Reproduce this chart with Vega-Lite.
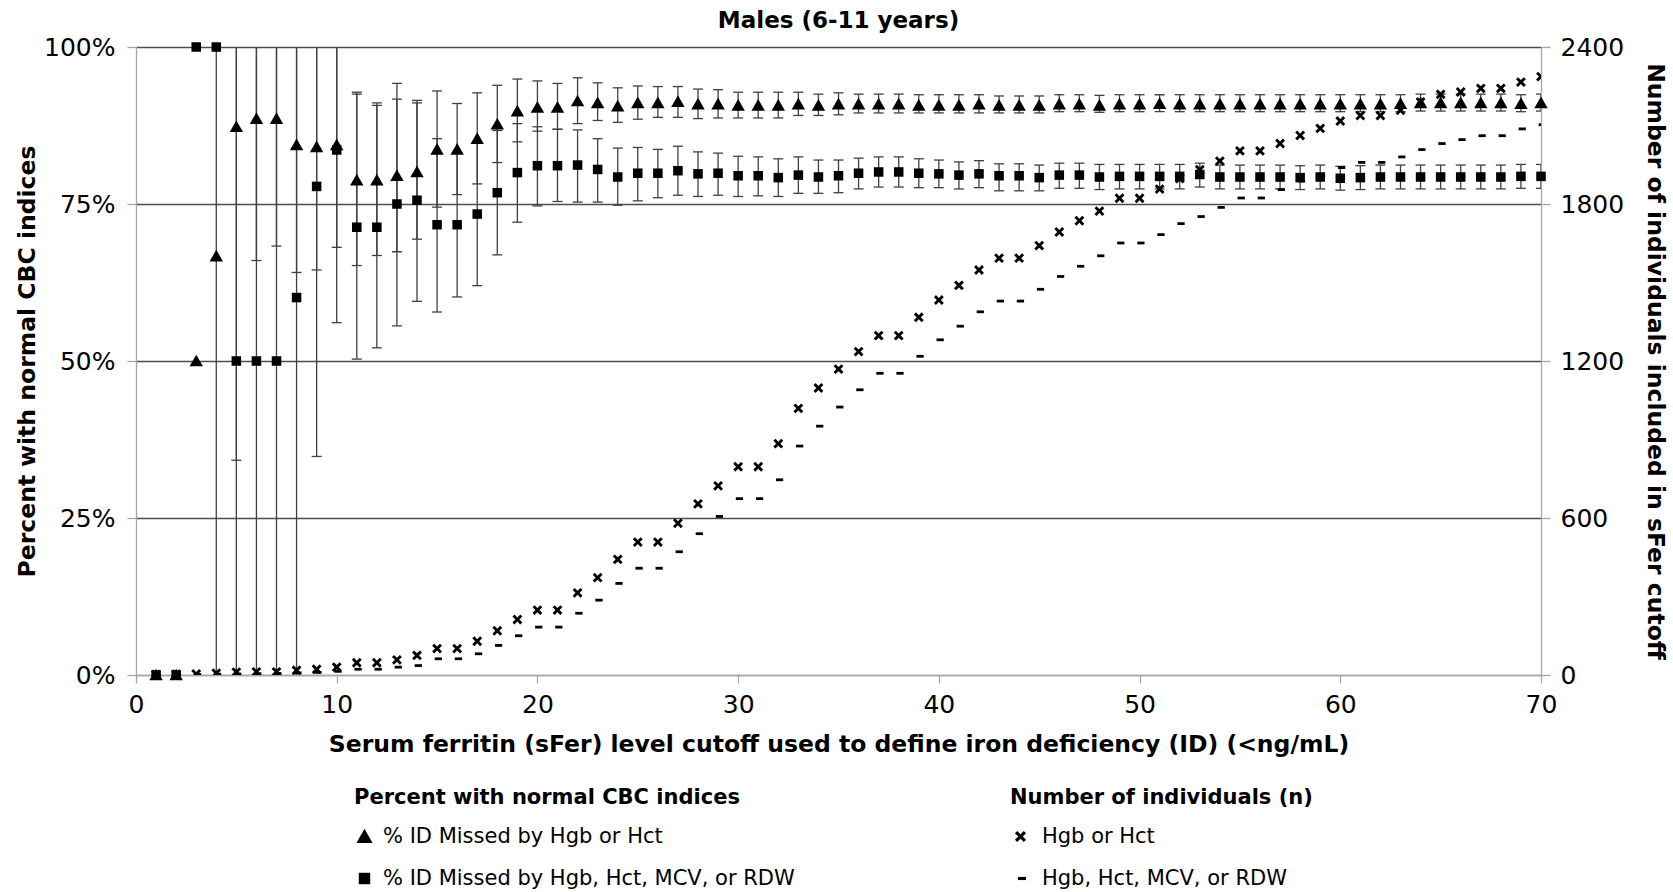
{
 "$schema": "https://vega.github.io/schema/vega-lite/v6.json",
 "width": 1405,
 "height": 628,
 "autosize": {"type": "none"},
 "padding": {"left": 136, "top": 47, "right": 132, "bottom": 217},
 "background": "white",
 "title": {"text": "Males (6-11 years)", "font": "DejaVu Sans", "fontSize": 23, "fontWeight": "bold", "color": "black", "anchor": "middle", "frame": "group", "offset": 2},
 "config": {
  "font": "DejaVu Sans",
  "view": {"stroke": null},
  "axis": {"labelFont": "DejaVu Sans", "labelFontSize": 25, "labelColor": "black", "titleFont": "DejaVu Sans", "titleFontSize": 23.5, "titleFontWeight": "bold", "titleColor": "black", "domainColor": "#a6a6a6", "tickColor": "#a6a6a6", "domainWidth": 1.3, "tickWidth": 1.3},
  "axisBottom": {"tickSize": 8, "labelPadding": 9, "grid": false, "labelFlush": false, "titleY": 69, "titleBaseline": "middle"},
  "axisLeft": {"tickSize": 9, "labelPadding": 12, "gridWidth": 1.3, "titleX": -109, "titleY": 314, "titleBaseline": "middle", "titleAlign": "center", "titleAngle": -90},
  "axisRight": {"tickSize": 9, "labelPadding": 10, "grid": false, "titleX": 113, "titleY": 314, "titleBaseline": "middle", "titleAlign": "center", "titleAngle": 90},
  "legend": {"orient": "none", "padding": 0, "labelFont": "DejaVu Sans", "labelFontSize": 21, "labelColor": "black", "titleFont": "DejaVu Sans", "titleFontSize": 21, "titleFontWeight": "bold", "titleColor": "black", "labelLimit": 700, "titleLimit": 700, "rowPadding": 20, "titlePadding": 18}
 },
 "datasets": {
  "pct": [
   {"x":1,"s":"tri","v":0},{"x":1,"s":"sq","v":0},
   {"x":2,"s":"tri","v":0},{"x":2,"s":"sq","v":0},
   {"x":3,"s":"tri","v":50},{"x":3,"s":"sq","v":100},
   {"x":4,"s":"tri","v":66.7,"lo":-5,"hi":130},{"x":4,"s":"sq","v":100},
   {"x":5,"s":"tri","v":87.3,"lo":34.2,"hi":140},{"x":5,"s":"sq","v":50,"lo":-40,"hi":140},
   {"x":6,"s":"tri","v":88.6,"lo":66.0,"hi":111.2},{"x":6,"s":"sq","v":50,"lo":-40,"hi":140},
   {"x":7,"s":"tri","v":88.6,"lo":68.3,"hi":108.9},{"x":7,"s":"sq","v":50,"lo":-40,"hi":140},
   {"x":8,"s":"tri","v":84.4,"lo":64.1,"hi":104.7},{"x":8,"s":"sq","v":60.1,"lo":-10,"hi":130},
   {"x":9,"s":"tri","v":84.1,"lo":64.5,"hi":103.7},{"x":9,"s":"sq","v":77.8,"lo":34.8,"hi":120.8},
   {"x":10,"s":"tri","v":84.4,"lo":68.1,"hi":100.7},{"x":10,"s":"sq","v":83.6,"lo":56.1,"hi":111.1},
   {"x":11,"s":"tri","v":78.8,"lo":65.2,"hi":92.5},{"x":11,"s":"sq","v":71.3,"lo":50.3,"hi":92.8},
   {"x":12,"s":"tri","v":78.8,"lo":66.8,"hi":90.7},{"x":12,"s":"sq","v":71.3,"lo":52.1,"hi":91.1},
   {"x":13,"s":"tri","v":79.5,"lo":67.4,"hi":91.7},{"x":13,"s":"sq","v":75.0,"lo":55.6,"hi":94.2},
   {"x":14,"s":"tri","v":80.1,"lo":69.4,"hi":91.1},{"x":14,"s":"sq","v":75.6,"lo":59.5,"hi":91.5},
   {"x":15,"s":"tri","v":83.7,"lo":74.5,"hi":93.0},{"x":15,"s":"sq","v":71.7,"lo":57.8,"hi":85.4},
   {"x":16,"s":"tri","v":83.7,"lo":76.5,"hi":91.0},{"x":16,"s":"sq","v":71.7,"lo":60.2,"hi":83.2},
   {"x":17,"s":"tri","v":85.4,"lo":78.2,"hi":92.7},{"x":17,"s":"sq","v":73.4,"lo":62.0,"hi":84.8},
   {"x":18,"s":"tri","v":87.7,"lo":81.6,"hi":93.9},{"x":18,"s":"sq","v":76.8,"lo":66.9,"hi":86.7},
   {"x":19,"s":"tri","v":89.8,"lo":84.9,"hi":94.9},{"x":19,"s":"sq","v":80.0,"lo":72.1,"hi":87.8},
   {"x":20,"s":"tri","v":90.4,"lo":86.6,"hi":94.6},{"x":20,"s":"sq","v":81.1,"lo":74.7,"hi":87.3},
   {"x":21,"s":"tri","v":90.4,"lo":86.9,"hi":94.2},{"x":21,"s":"sq","v":81.1,"lo":75.4,"hi":86.9},
   {"x":22,"s":"tri","v":91.4,"lo":87.8,"hi":95.1},{"x":22,"s":"sq","v":81.2,"lo":75.3,"hi":86.8},
   {"x":23,"s":"tri","v":91.1,"lo":88.3,"hi":94.3},{"x":23,"s":"sq","v":80.5,"lo":75.3,"hi":85.4},
   {"x":24,"s":"tri","v":90.6,"lo":88.0,"hi":93.5},{"x":24,"s":"sq","v":79.3,"lo":74.8,"hi":83.9},
   {"x":25,"s":"tri","v":91.1,"lo":88.5,"hi":93.8},{"x":25,"s":"sq","v":79.9,"lo":75.5,"hi":84.0},
   {"x":26,"s":"tri","v":91.1,"lo":88.8,"hi":93.7},{"x":26,"s":"sq","v":79.9,"lo":76.0,"hi":83.7},
   {"x":27,"s":"tri","v":91.3,"lo":88.8,"hi":93.7},{"x":27,"s":"sq","v":80.3,"lo":76.4,"hi":84.2},
   {"x":28,"s":"tri","v":90.9,"lo":88.6,"hi":93.3},{"x":28,"s":"sq","v":79.8,"lo":76.2,"hi":83.3},
   {"x":29,"s":"tri","v":90.9,"lo":88.7,"hi":93.2},{"x":29,"s":"sq","v":79.9,"lo":76.4,"hi":83.1},
   {"x":30,"s":"tri","v":90.7,"lo":88.7,"hi":92.8},{"x":30,"s":"sq","v":79.5,"lo":76.2,"hi":82.6},
   {"x":31,"s":"tri","v":90.7,"lo":88.7,"hi":92.8},{"x":31,"s":"sq","v":79.5,"lo":76.3,"hi":82.5},
   {"x":32,"s":"tri","v":90.7,"lo":88.7,"hi":92.8},{"x":32,"s":"sq","v":79.2,"lo":76.2,"hi":82.2},
   {"x":33,"s":"tri","v":90.9,"lo":89.1,"hi":92.8},{"x":33,"s":"sq","v":79.6,"lo":76.7,"hi":82.5},
   {"x":34,"s":"tri","v":90.7,"lo":89.1,"hi":92.5},{"x":34,"s":"sq","v":79.3,"lo":76.7,"hi":82.0},
   {"x":35,"s":"tri","v":90.9,"lo":89.2,"hi":92.7},{"x":35,"s":"sq","v":79.5,"lo":76.8,"hi":82.0},
   {"x":36,"s":"tri","v":90.9,"lo":89.5,"hi":92.5},{"x":36,"s":"sq","v":79.9,"lo":77.4,"hi":82.3},
   {"x":37,"s":"tri","v":90.9,"lo":89.5,"hi":92.5},{"x":37,"s":"sq","v":80.1,"lo":77.7,"hi":82.5},
   {"x":38,"s":"tri","v":90.9,"lo":89.5,"hi":92.5},{"x":38,"s":"sq","v":80.1,"lo":77.7,"hi":82.5},
   {"x":39,"s":"tri","v":90.7,"lo":89.5,"hi":92.4},{"x":39,"s":"sq","v":79.9,"lo":77.6,"hi":82.2},
   {"x":40,"s":"tri","v":90.7,"lo":89.5,"hi":92.4},{"x":40,"s":"sq","v":79.8,"lo":77.6,"hi":82.0},
   {"x":41,"s":"tri","v":90.7,"lo":89.5,"hi":92.4},{"x":41,"s":"sq","v":79.6,"lo":77.4,"hi":81.7},
   {"x":42,"s":"tri","v":90.9,"lo":89.5,"hi":92.4},{"x":42,"s":"sq","v":79.8,"lo":77.6,"hi":81.9},
   {"x":43,"s":"tri","v":90.7,"lo":89.5,"hi":92.2},{"x":43,"s":"sq","v":79.5,"lo":77.1,"hi":81.4},
   {"x":44,"s":"tri","v":90.7,"lo":89.5,"hi":92.2},{"x":44,"s":"sq","v":79.5,"lo":77.1,"hi":81.4},
   {"x":45,"s":"tri","v":90.7,"lo":89.5,"hi":92.2},{"x":45,"s":"sq","v":79.2,"lo":77.1,"hi":81.2},
   {"x":46,"s":"tri","v":90.9,"lo":89.7,"hi":92.4},{"x":46,"s":"sq","v":79.6,"lo":77.5,"hi":81.5},
   {"x":47,"s":"tri","v":90.9,"lo":89.7,"hi":92.4},{"x":47,"s":"sq","v":79.6,"lo":77.5,"hi":81.5},
   {"x":48,"s":"tri","v":90.7,"lo":89.6,"hi":92.3},{"x":48,"s":"sq","v":79.3,"lo":77.3,"hi":81.3},
   {"x":49,"s":"tri","v":90.9,"lo":89.7,"hi":92.4},{"x":49,"s":"sq","v":79.4,"lo":77.4,"hi":81.3},
   {"x":50,"s":"tri","v":90.9,"lo":89.7,"hi":92.4},{"x":50,"s":"sq","v":79.4,"lo":77.4,"hi":81.3},
   {"x":51,"s":"tri","v":91.0,"lo":89.7,"hi":92.4},{"x":51,"s":"sq","v":79.4,"lo":77.4,"hi":81.3},
   {"x":52,"s":"tri","v":90.9,"lo":89.7,"hi":92.4},{"x":52,"s":"sq","v":79.4,"lo":77.4,"hi":81.3},
   {"x":53,"s":"tri","v":90.9,"lo":89.7,"hi":92.4},{"x":53,"s":"sq","v":79.7,"lo":77.7,"hi":81.5},
   {"x":54,"s":"tri","v":90.9,"lo":89.7,"hi":92.4},{"x":54,"s":"sq","v":79.3,"lo":77.4,"hi":81.2},
   {"x":55,"s":"tri","v":90.9,"lo":89.7,"hi":92.4},{"x":55,"s":"sq","v":79.3,"lo":77.4,"hi":81.2},
   {"x":56,"s":"tri","v":90.9,"lo":89.7,"hi":92.4},{"x":56,"s":"sq","v":79.3,"lo":77.4,"hi":81.2},
   {"x":57,"s":"tri","v":90.9,"lo":89.7,"hi":92.4},{"x":57,"s":"sq","v":79.3,"lo":77.4,"hi":81.2},
   {"x":58,"s":"tri","v":90.9,"lo":89.7,"hi":92.4},{"x":58,"s":"sq","v":79.2,"lo":77.3,"hi":81.1},
   {"x":59,"s":"tri","v":90.9,"lo":89.7,"hi":92.4},{"x":59,"s":"sq","v":79.3,"lo":77.4,"hi":81.2},
   {"x":60,"s":"tri","v":90.9,"lo":89.7,"hi":92.4},{"x":60,"s":"sq","v":79.1,"lo":77.2,"hi":81.0},
   {"x":61,"s":"tri","v":90.9,"lo":89.7,"hi":92.4},{"x":61,"s":"sq","v":79.2,"lo":77.3,"hi":81.1},
   {"x":62,"s":"tri","v":90.9,"lo":89.7,"hi":92.4},{"x":62,"s":"sq","v":79.3,"lo":77.4,"hi":81.2},
   {"x":63,"s":"tri","v":91.0,"lo":89.7,"hi":92.4},{"x":63,"s":"sq","v":79.3,"lo":77.4,"hi":81.2},
   {"x":64,"s":"tri","v":91.1,"lo":89.8,"hi":92.5},{"x":64,"s":"sq","v":79.3,"lo":77.4,"hi":81.2},
   {"x":65,"s":"tri","v":91.1,"lo":89.8,"hi":92.5},{"x":65,"s":"sq","v":79.3,"lo":77.4,"hi":81.2},
   {"x":66,"s":"tri","v":91.1,"lo":89.8,"hi":92.5},{"x":66,"s":"sq","v":79.3,"lo":77.4,"hi":81.2},
   {"x":67,"s":"tri","v":91.1,"lo":89.8,"hi":92.5},{"x":67,"s":"sq","v":79.3,"lo":77.4,"hi":81.2},
   {"x":68,"s":"tri","v":91.1,"lo":89.8,"hi":92.5},{"x":68,"s":"sq","v":79.3,"lo":77.4,"hi":81.2},
   {"x":69,"s":"tri","v":91.0,"lo":89.7,"hi":92.4},{"x":69,"s":"sq","v":79.4,"lo":77.5,"hi":81.3},
   {"x":70,"s":"tri","v":91.1,"lo":89.8,"hi":92.5},{"x":70,"s":"sq","v":79.4,"lo":77.5,"hi":81.3}
  ],
  "cnt": [
   {"x":1,"s":"n1","n":2},{"x":1,"s":"n2","n":1},
   {"x":2,"s":"n1","n":3},{"x":2,"s":"n2","n":2},
   {"x":3,"s":"n1","n":4},{"x":3,"s":"n2","n":2},
   {"x":4,"s":"n1","n":7},{"x":4,"s":"n2","n":3},
   {"x":5,"s":"n1","n":11},{"x":5,"s":"n2","n":4},
   {"x":6,"s":"n1","n":12},{"x":6,"s":"n2","n":5},
   {"x":7,"s":"n1","n":12},{"x":7,"s":"n2","n":6},
   {"x":8,"s":"n1","n":18},{"x":8,"s":"n2","n":8},
   {"x":9,"s":"n1","n":22},{"x":9,"s":"n2","n":10},
   {"x":10,"s":"n1","n":30},{"x":10,"s":"n2","n":14},
   {"x":11,"s":"n1","n":47},{"x":11,"s":"n2","n":22},
   {"x":12,"s":"n1","n":47},{"x":12,"s":"n2","n":22},
   {"x":13,"s":"n1","n":58},{"x":13,"s":"n2","n":30},
   {"x":14,"s":"n1","n":75},{"x":14,"s":"n2","n":36},
   {"x":15,"s":"n1","n":101},{"x":15,"s":"n2","n":62},
   {"x":16,"s":"n1","n":101},{"x":16,"s":"n2","n":62},
   {"x":17,"s":"n1","n":129},{"x":17,"s":"n2","n":81},
   {"x":18,"s":"n1","n":169},{"x":18,"s":"n2","n":113},
   {"x":19,"s":"n1","n":212},{"x":19,"s":"n2","n":150},
   {"x":20,"s":"n1","n":248},{"x":20,"s":"n2","n":183},
   {"x":21,"s":"n1","n":248},{"x":21,"s":"n2","n":183},
   {"x":22,"s":"n1","n":314},{"x":22,"s":"n2","n":236},
   {"x":23,"s":"n1","n":372},{"x":23,"s":"n2","n":286},
   {"x":24,"s":"n1","n":442},{"x":24,"s":"n2","n":350},
   {"x":25,"s":"n1","n":508},{"x":25,"s":"n2","n":408},
   {"x":26,"s":"n1","n":508},{"x":26,"s":"n2","n":408},
   {"x":27,"s":"n1","n":580},{"x":27,"s":"n2","n":471},
   {"x":28,"s":"n1","n":654},{"x":28,"s":"n2","n":540},
   {"x":29,"s":"n1","n":723},{"x":29,"s":"n2","n":606},
   {"x":30,"s":"n1","n":796},{"x":30,"s":"n2","n":674},
   {"x":31,"s":"n1","n":796},{"x":31,"s":"n2","n":674},
   {"x":32,"s":"n1","n":884},{"x":32,"s":"n2","n":746},
   {"x":33,"s":"n1","n":1019},{"x":33,"s":"n2","n":875},
   {"x":34,"s":"n1","n":1097},{"x":34,"s":"n2","n":951},
   {"x":35,"s":"n1","n":1169},{"x":35,"s":"n2","n":1024},
   {"x":36,"s":"n1","n":1236},{"x":36,"s":"n2","n":1090},
   {"x":37,"s":"n1","n":1297},{"x":37,"s":"n2","n":1153},
   {"x":38,"s":"n1","n":1297},{"x":38,"s":"n2","n":1153},
   {"x":39,"s":"n1","n":1367},{"x":39,"s":"n2","n":1218},
   {"x":40,"s":"n1","n":1433},{"x":40,"s":"n2","n":1281},
   {"x":41,"s":"n1","n":1489},{"x":41,"s":"n2","n":1333},
   {"x":42,"s":"n1","n":1548},{"x":42,"s":"n2","n":1388},
   {"x":43,"s":"n1","n":1593},{"x":43,"s":"n2","n":1429},
   {"x":44,"s":"n1","n":1593},{"x":44,"s":"n2","n":1429},
   {"x":45,"s":"n1","n":1641},{"x":45,"s":"n2","n":1474},
   {"x":46,"s":"n1","n":1693},{"x":46,"s":"n2","n":1523},
   {"x":47,"s":"n1","n":1736},{"x":47,"s":"n2","n":1562},
   {"x":48,"s":"n1","n":1773},{"x":48,"s":"n2","n":1602},
   {"x":49,"s":"n1","n":1822},{"x":49,"s":"n2","n":1651},
   {"x":50,"s":"n1","n":1822},{"x":50,"s":"n2","n":1651},
   {"x":51,"s":"n1","n":1857},{"x":51,"s":"n2","n":1683},
   {"x":52,"s":"n1","n":1897},{"x":52,"s":"n2","n":1725},
   {"x":53,"s":"n1","n":1931},{"x":53,"s":"n2","n":1752},
   {"x":54,"s":"n1","n":1964},{"x":54,"s":"n2","n":1787},
   {"x":55,"s":"n1","n":2003},{"x":55,"s":"n2","n":1823},
   {"x":56,"s":"n1","n":2003},{"x":56,"s":"n2","n":1823},
   {"x":57,"s":"n1","n":2031},{"x":57,"s":"n2","n":1855},
   {"x":58,"s":"n1","n":2062},{"x":58,"s":"n2","n":1888},
   {"x":59,"s":"n1","n":2089},{"x":59,"s":"n2","n":1908},
   {"x":60,"s":"n1","n":2117},{"x":60,"s":"n2","n":1939},
   {"x":61,"s":"n1","n":2138},{"x":61,"s":"n2","n":1959},
   {"x":62,"s":"n1","n":2138},{"x":62,"s":"n2","n":1959},
   {"x":63,"s":"n1","n":2158},{"x":63,"s":"n2","n":1980},
   {"x":64,"s":"n1","n":2190},{"x":64,"s":"n2","n":2008},
   {"x":65,"s":"n1","n":2219},{"x":65,"s":"n2","n":2031},
   {"x":66,"s":"n1","n":2228},{"x":66,"s":"n2","n":2046},
   {"x":67,"s":"n1","n":2242},{"x":67,"s":"n2","n":2061},
   {"x":68,"s":"n1","n":2242},{"x":68,"s":"n2","n":2061},
   {"x":69,"s":"n1","n":2266},{"x":69,"s":"n2","n":2087},
   {"x":70,"s":"n1","n":2287},{"x":70,"s":"n2","n":2103}
  ]
 },
 "encoding": {
  "x": {"field": "x", "type": "quantitative", "title": "Serum ferritin (sFer) level cutoff used to define iron deficiency (ID) (<ng/mL)", "scale": {"domain": [0, 70], "nice": false, "zero": false}, "axis": {"values": [0, 10, 20, 30, 40, 50, 60, 70]}}
 },
 "layer": [
  {
   "data": {"name": "pct"},
   "layer": [
    {
     "mark": {"type": "rule", "clip": true, "color": "#404040", "strokeWidth": 1.3},
     "encoding": {
      "y": {"field": "lo", "type": "quantitative", "title": "Percent with normal CBC indices", "scale": {"domain": [0, 100], "nice": false, "zero": false}, "axis": {"orient": "left", "values": [0, 25, 50, 75, 100], "labelExpr": "datum.value + '%'", "grid": true, "gridColor": {"condition": {"test": "datum.value === 0", "value": "#a6a6a6"}, "value": "#4d4d4d"}}},
      "y2": {"field": "hi"}
     }
    },
    {
     "mark": {"type": "tick", "orient": "horizontal", "clip": true, "color": "#404040", "size": 10, "thickness": 1.3, "opacity": 1},
     "encoding": {
      "y": {"field": "lo", "type": "quantitative", "title": "Percent with normal CBC indices", "axis": {"orient": "left", "values": [0, 25, 50, 75, 100], "labelExpr": "datum.value + '%'", "grid": true, "gridColor": {"condition": {"test": "datum.value === 0", "value": "#a6a6a6"}, "value": "#4d4d4d"}}}
     }
    },
    {
     "mark": {"type": "tick", "orient": "horizontal", "clip": true, "color": "#404040", "size": 10, "thickness": 1.3, "opacity": 1},
     "encoding": {
      "y": {"field": "hi", "type": "quantitative", "title": "Percent with normal CBC indices", "axis": {"orient": "left", "values": [0, 25, 50, 75, 100], "labelExpr": "datum.value + '%'", "grid": true, "gridColor": {"condition": {"test": "datum.value === 0", "value": "#a6a6a6"}, "value": "#4d4d4d"}}}
     }
    },
    {
     "mark": {"type": "point", "filled": true, "color": "black", "opacity": 1, "size": 180},
     "encoding": {
      "y": {"field": "v", "type": "quantitative", "title": "Percent with normal CBC indices", "axis": {"orient": "left", "values": [0, 25, 50, 75, 100], "labelExpr": "datum.value + '%'", "grid": true, "gridColor": {"condition": {"test": "datum.value === 0", "value": "#a6a6a6"}, "value": "#4d4d4d"}}},
      "shape": {"field": "s", "type": "nominal", "scale": {"domain": ["tri", "sq"], "range": ["M0,-0.95L1,0.8L-1,0.8Z", "M-0.71,-0.71L0.71,-0.71L0.71,0.71L-0.71,0.71Z"]},
       "legend": {"title": "Percent with normal CBC indices", "legendX": 218, "legendY": 740, "symbolSize": 260, "symbolFillColor": "black", "symbolStrokeWidth": 0, "labelOffset": 8, "labelExpr": "datum.label === 'tri' ? '% ID Missed by Hgb or Hct' : '% ID Missed by Hgb, Hct, MCV, or RDW'"}}
     }
    }
   ]
  },
  {
   "data": {"name": "cnt"},
   "mark": {"type": "point", "filled": true, "color": "black", "opacity": 1, "size": 135, "clip": true},
   "encoding": {
    "y": {"field": "n", "type": "quantitative", "title": "Number of individuals included in sFer cutoff", "scale": {"domain": [0, 2400], "nice": false, "zero": false}, "axis": {"orient": "right", "values": [0, 600, 1200, 1800, 2400], "format": "d", "grid": false}},
    "shape": {"field": "s", "type": "nominal", "scale": {"domain": ["n1", "n2"], "range": ["M-0.85,-0.5L-0.5,-0.85L0,-0.35L0.5,-0.85L0.85,-0.5L0.35,0L0.85,0.5L0.5,0.85L0,0.35L-0.5,0.85L-0.85,0.5L-0.35,0Z", "M-0.4,-0.24L0.85,-0.24L0.85,0.24L-0.4,0.24Z"]},
     "legend": {"title": "Number of individuals (n)", "legendX": 874, "legendY": 740, "symbolSize": 170, "symbolFillColor": "black", "symbolStrokeWidth": 0, "labelOffset": 11, "labelExpr": "datum.label === 'n1' ? 'Hgb or Hct' : 'Hgb, Hct, MCV, or RDW'"}}
   }
  }
 ],
 "resolve": {"scale": {"y": "independent", "shape": "independent"}}
}
